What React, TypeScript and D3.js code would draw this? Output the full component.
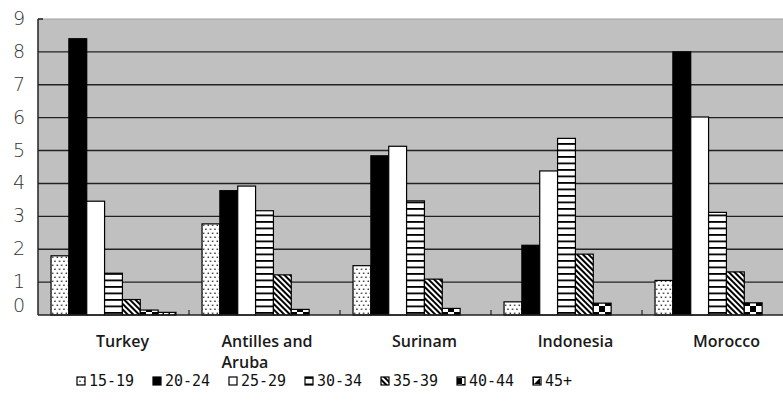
import React from "react";
import * as d3 from "d3";

const categories = ["Turkey", "Antilles and Aruba", "Surinam", "Indonesia", "Morocco"];
const categoryLines = [["Turkey"], ["Antilles and", "Aruba"], ["Surinam"], ["Indonesia"], ["Morocco"]];
const series = ["15-19", "20-24", "25-29", "30-34", "35-39", "40-44", "45+"];
// values per series, in category order
const v1519 = [1.8, 2.77, 1.5, 0.4, 1.05];
const v2024 = [8.4, 3.78, 4.84, 2.12, 8.0];
const v2529 = [3.46, 3.92, 5.13, 4.38, 6.02];
const v3034 = [1.27, 3.17, 3.47, 5.37, 3.12];
const v3539 = [0.47, 1.22, 1.09, 1.85, 1.31];
const v4044 = [0.15, 0.17, 0.2, 0.36, 0.37];
const v45p = [0.08, 0, 0, 0, 0];
const seriesValues = [v1519, v2024, v2529, v3034, v3539, v4044, v45p];
const yTicks = [0, 1, 2, 3, 4, 5, 6, 7, 8, 9];

const W = 783;
const H = 407;
const plotLeft = 38;
const plotTop = 19;
const plotBottom = 315;
const catStep = 151;

const fills = ["url(#pDots)", "#000", "#fff", "url(#pHStripe)", "url(#pDiag)", "url(#pChecker)", "url(#pHalf)"];

export default function App() {
  const x0 = d3
    .scaleBand<string>()
    .domain(categories)
    .range([plotLeft, plotLeft + catStep * categories.length])
    .paddingInner(0)
    .paddingOuter(0);
  const x1 = d3.scaleBand<string>().domain(series).range([0, x0.bandwidth()]).paddingInner(0).paddingOuter(0.73);
  const y = d3.scaleLinear().domain([0, 9]).range([plotBottom, plotTop]);

  const legendStart = 77;
  const legendStep = 76;
  const legendY = 381;

  return (
    <svg width={W} height={H} style={{ position: "absolute", left: 0, top: 0, background: "#fff" }}>
      <defs>
        <pattern id="pDots" width={4.5} height={8} patternUnits="userSpaceOnUse">
          <rect width={4.5} height={8} fill="#fff" />
          <rect x={0.6} y={0.6} width={1.3} height={1.3} fill="#000" />
          <rect x={2.85} y={4.6} width={1.3} height={1.3} fill="#000" />
        </pattern>
        <pattern id="pHStripe" width={6} height={6.5} patternUnits="userSpaceOnUse">
          <rect width={6} height={6.5} fill="#fff" />
          <rect y={0} width={6} height={1.8} fill="#000" />
        </pattern>
        <pattern id="pDiag" width={4} height={4} patternUnits="userSpaceOnUse" patternTransform="rotate(-45)">
          <rect width={4} height={4} fill="#fff" />
          <rect width={2} height={4} fill="#000" />
        </pattern>
        <pattern id="pChecker" width={12} height={12} patternUnits="userSpaceOnUse">
          <rect width={12} height={12} fill="#fff" />
          <rect x={6} y={0} width={6} height={6} fill="#000" />
          <rect x={0} y={6} width={6} height={6} fill="#000" />
        </pattern>
        <pattern id="pHalf" width={6} height={6} patternUnits="userSpaceOnUse">
          <rect width={6} height={6} fill="#fff" />
          <polygon points="0,6 6,0 6,6" fill="#000" />
        </pattern>
      </defs>

      {/* plot background */}
      <rect x={plotLeft} y={plotTop} width={W - plotLeft + 20} height={plotBottom - plotTop} fill="#c0c0c0" />
      <line x1={plotLeft} x2={W + 20} y1={plotTop} y2={plotTop} stroke="#a0a0a0" strokeWidth={1.2} />

      {/* gridlines */}
      {yTicks
        .filter((t) => t > 0 && t < 9)
        .map((t) => (
          <line key={t} x1={plotLeft} x2={W + 20} y1={y(t)} y2={y(t)} stroke="#222" strokeWidth={1.4} />
        ))}

      {/* bars */}
      {categories.map((c, ci) => (
        <g key={c} transform={`translate(${x0(c)},0)`}>
          {series.map((s, si) => {
            const v = seriesValues[si][ci];
            if (!v) return null;
            return (
              <rect
                key={s}
                x={x1(s)}
                y={y(v)}
                width={x1.bandwidth()}
                height={y(0) - y(v)}
                fill={fills[si]}
                stroke="#000"
                strokeWidth={1.2}
              />
            );
          })}
        </g>
      ))}

      {/* axes */}
      <line x1={plotLeft} x2={plotLeft} y1={plotTop} y2={plotBottom} stroke="#222" strokeWidth={1.5} />
      <line x1={plotLeft} x2={plotLeft + 5} y1={plotTop} y2={plotTop} stroke="#222" strokeWidth={1.5} />
      <line x1={plotLeft} x2={W + 20} y1={plotBottom} y2={plotBottom} stroke="#222" strokeWidth={1.5} />
      {categories.slice(1).map((c) => (
        <line key={c} x1={x0(c)} x2={x0(c)} y1={plotBottom} y2={plotBottom - 5} stroke="#222" strokeWidth={1.2} />
      ))}

      {/* y tick labels */}
      {yTicks.map((t) => (
        <text
          key={t}
          x={25}
          y={Math.min(y(t), y(0) - 9) - 1}
          textAnchor="end"
          dominantBaseline="central"
          fontFamily="DejaVu Sans"
          fontSize={19}
          fontWeight={300}
          fill="#333"
        >
          {t}
        </text>
      ))}

      {/* category labels */}
      {categories.map((c, ci) => {
        const lines = categoryLines[ci];
        const cx = (x0(c) as number) + x0.bandwidth() / 2 + 9;
        const multi = lines.length > 1;
        const blockW = multi ? 104 : 0;
        return (
          <text
            key={c}
            x={multi ? cx - blockW / 2 : cx}
            y={347}
            textAnchor={multi ? "start" : "middle"}
            fontFamily="Open Sans"
            fontSize={16}
            fontWeight={600}
            fill="#1a1a1a"
          >
            {lines.map((l, li) => (
              <tspan key={li} x={multi ? cx - blockW / 2 : cx} dy={li === 0 ? 0 : 21}>
                {l}
              </tspan>
            ))}
          </text>
        );
      })}

      {/* legend */}
      {series.map((s, si) => {
        const lx = legendStart + si * legendStep;
        return (
          <g key={s}>
            <rect x={lx} y={legendY - 4} width={8} height={8} fill={fills[si]} stroke="#000" strokeWidth={1.2} />
            <text
              x={lx + 12}
              y={legendY}
              dominantBaseline="central"
              fontFamily="DejaVu Sans Mono"
              fontSize={15}
              fill="#111"
            >
              {s}
            </text>
          </g>
        );
      })}
    </svg>
  );
}
